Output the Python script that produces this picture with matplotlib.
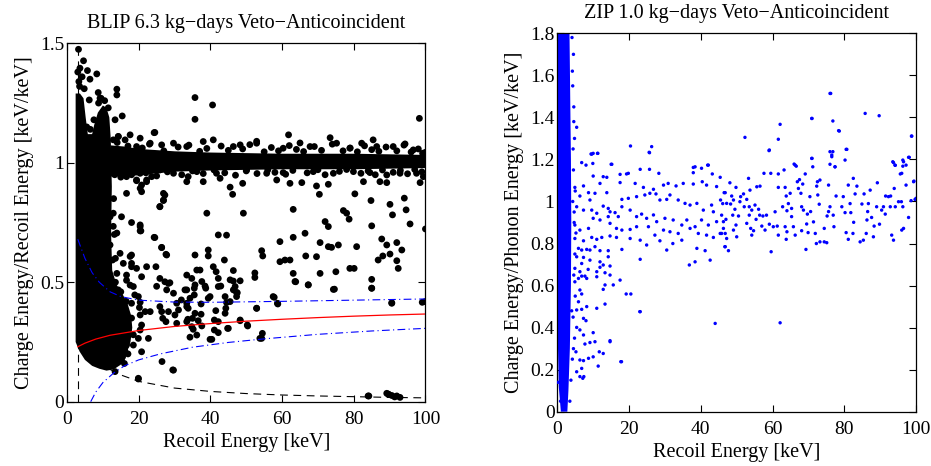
import matplotlib
matplotlib.use("Agg")
import matplotlib.pyplot as plt
from matplotlib.ticker import FuncFormatter, MultipleLocator

plt.rcParams['font.family'] = ['Liberation Serif', 'DejaVu Serif']

# ---------------- BLIP panel data ----------------
blip_title = "BLIP 6.3 kg\u2212days Veto\u2212Anticoincident"
blip_ylabel = "Charge Energy/Recoil Energy [keV/keV]"
xlabel = "Recoil Energy [keV]"

# dense (saturated) regions: outline of the low-energy cluster
blip_dense_x = [2.4, 3.5, 5.0, 7.0, 9.0, 11.0, 13.0, 15.0, 16.6, 17.7, 18.2, 17.9, 16.9, 15.5,
                13.8, 12.6, 12.3, 12.5, 12.2, 11.8, 11.0, 10.0, 8.6, 7.6, 7.0, 5.8, 5.2, 4.6, 3.6, 2.4]
blip_dense_y = [0.25, 0.21, 0.175, 0.15, 0.138, 0.13, 0.135, 0.155, 0.20, 0.25, 0.31, 0.36, 0.41, 0.45,
                0.49, 0.55, 0.70, 0.90, 1.10, 1.19, 1.23, 1.24, 1.21, 1.16, 1.12, 1.12, 1.19, 1.27, 1.29, 1.29]
# electron-recoil band (saturated) upper / lower edges
blip_band_x = [12, 16, 20, 25, 30, 40, 60, 80, 100]
blip_band_hi = [1.075, 1.07, 1.06, 1.055, 1.05, 1.045, 1.04, 1.04, 1.035]
blip_band_lo = [0.945, 0.945, 0.95, 0.958, 0.965, 0.97, 0.975, 0.975, 0.98]

blip_x = [3.2, 4.6, 3.6, 5.7, 8.3, 6.4, 3.3, 4.2, 13.9, 13.9, 8.7, 9.2, 6.2, 15.4, 13.4, 35.7, 35.7, 40.6,
          98.3, 24.3, 40.8, 61.8, 73.4, 52.9, 65.0, 85.4, 94.3, 14.3, 17.6,
          26.9, 26.9, 25.9, 46.2, 45.5, 39.0, 49.2, 63.1, 70.4, 77.1, 78.0, 78.7, 80.3, 84.8, 90.1, 90.8,
          94.1, 94.6, 85.0, 95.7, 100.0, 23.6, 20.4, 22.2, 10.6, 12.9, 10.9, 18.0, 20.4, 20.4, 24.3,
          42.2, 44.5, 26.4, 27.8, 18.0, 39.4, 39.4, 35.7, 43.9, 66.4, 72.0, 72.9, 59.4, 63.1, 70.6, 72.9,
          73.8, 75.7, 80.8, 66.6, 69.6, 59.4, 60.8, 62.2, 54.3, 54.6, 87.8, 89.2, 92.0, 88.1, 90.1, 86.8,
          92.0, 92.4, 93.4, 78.9, 80.1, 70.6, 75.0, 63.1, 63.6, 52.4, 52.4, 67.3, 85.0, 85.0, 74.3,
          99.9, 90.6, 57.5, 58.7, 52.9, 54.3, 50.3, 48.3, 45.0, 39.9, 29.5, 26.5, 19.9, 13.4,
          84.0, 89.2, 89.8, 92.0, 92.9,
          33.4, 35.7, 35.5, 34.3, 35.5, 33.8, 37.4, 39.4, 39.9, 35.7, 37.4, 35.0, 36.6, 33.7, 37.6, 34.8,
          35.2, 36.2, 34.3, 40.4, 41.5, 41.1, 42.2, 41.1, 42.2, 44.1, 44.3, 44.5, 44.1, 45.5, 47.3, 47.3,
          46.4, 46.4, 42.2, 38.7, 48.3, 44.8, 50.4, 52.9, 54.5, 53.8, 57.8, 58.8, 63.8, 67.3, 74.6, 85.0,
          90.6, 99.1, 84.2, 89.6, 90.6, 91.4,
          20.4, 20.6, 24.5, 26.4, 27.6, 17.6, 12.7, 18.0, 19.4, 20.8, 24.8, 25.9, 27.3, 28.3, 16.6, 17.6,
          18.9, 19.9, 20.4, 20.2, 18.0, 21.8, 23.2, 25.9, 26.4, 26.7, 27.6, 28.3, 30.1, 31.1, 33.4, 30.6,
          33.4, 20.4, 20.8, 20.4, 22.7, 19.9, 18.5, 20.8, 16.6, 16.2, 15.5, 15.2, 19.9, 29.7,
          11.1, 12.9, 13.9, 12.0, 14.8, 15.7, 18.0, 13.9, 16.6, 18.5, 14.3, 22.2, 25.0, 28.7, 27.8, 29.7,
          30.6, 31.9, 33.4, 32.9, 34.8, 33.4, 36.2, 37.1, 37.6, 38.5, 40.8, 41.6, 42.2, 42.9, 45.5, 46.4,
          46.9, 47.5, 48.3,
          20.4, 19.4, 33.4, 38.0, 42.7, 58.5, 62.2, 82.7, 87.3, 89.2, 98.5, 69.6, 72.9, 65.5, 49.0,
          12.9, 19.4, 26.4, 29.7, 33.4, 38.0, 46.4, 48.3, 52.9, 60.3, 67.8, 75.2, 78.9, 82.2, 86.4, 91.0,
          96.6, 99.2,
          25.9, 29.7, 36.2, 41.7, 50.1, 55.7, 60.3, 68.7, 74.3, 79.9, 84.5, 89.2, 92.9, 97.5, 99.4,
          14.3, 16.2, 20.4, 24.5, 23.2, 13.4, 14.8, 13.4, 15.2, 16.6, 19.4, 20.8, 22.2, 16.6, 20.8, 27.3,
          26.9, 25.9, 33.8, 11.1, 12.0, 15.2,
          # ragged edges of the dense cluster
          3.5, 4.8, 3.0, 9.5, 10.5, 8.8, 11.5, 17.0, 18.5, 18.0, 16.5, 15.0, 13.5, 13.5, 13.2, 13.0, 13.3,
          12.8, 14.0, 16.0, 6.5, 7.5, 5.5,
          # ragged edges of the electron-recoil band
          14, 17, 21, 23, 27, 31, 34, 37, 39, 43, 45, 49, 51, 55, 57, 59, 62, 64, 66, 69, 71, 74, 77, 79,
          81, 83, 85, 87, 89, 92, 94, 96, 98, 100,
          15, 18, 22, 25, 28, 32, 35, 38, 41, 44, 47, 50, 53, 56, 58, 61, 63, 67, 70, 72, 76, 78, 82, 84,
          86, 88, 91, 93, 95, 97, 99]
blip_y = [1.475, 1.427, 1.396, 1.386, 1.372, 1.35, 1.34, 1.36, 1.308, 1.284, 1.294, 1.27, 1.263, 1.196,
          1.18, 1.273, 1.182, 1.242, 1.186, 1.126, 1.096, 1.117, 1.105, 1.09, 1.083, 1.096, 1.079, 1.11,
          1.117,
          0.872, 0.842, 0.817, 0.868, 0.898, 0.789, 0.789, 0.805, 0.868, 0.80, 0.789, 0.764, 0.87, 0.842,
          0.826, 0.782, 0.852, 0.803, 0.736, 0.744, 0.723, 0.942, 0.893, 0.921, 0.803, 0.789, 0.75, 0.75,
          0.733, 0.715, 0.688, 0.698, 0.697, 0.646, 0.614, 0.614, 0.635, 0.61, 0.614, 0.593, 0.705, 0.754,
          0.733, 0.67, 0.688, 0.666, 0.649, 0.646, 0.656, 0.649, 0.61, 0.607, 0.586, 0.593, 0.593, 0.632,
          0.61, 0.681, 0.656, 0.666, 0.61, 0.618, 0.593, 0.59, 0.558, 0.635, 0.558, 0.558, 0.537, 0.544,
          0.537, 0.503, 0.539, 0.52, 0.489, 0.512, 0.475, 0.47, 0.419, 0.414, 0.44, 0.412, 0.391, 0.265,
          0.321, 0.342, 0.307, 0.261, 0.133, 0.168, 0.095, 0.126,
          0.024, 0.035, 0.03, 0.024, 0.018,
          0.468, 0.489, 0.475, 0.433, 0.447, 0.391, 0.409, 0.433, 0.44, 0.37, 0.366, 0.349, 0.339, 0.345,
          0.317, 0.314, 0.303, 0.279, 0.27, 0.261, 0.381, 0.342, 0.335, 0.30, 0.289, 0.37, 0.391, 0.415,
          0.44, 0.419, 0.44, 0.457, 0.468, 0.505, 0.482, 0.475, 0.339, 0.307, 0.317, 0.391, 0.286, 0.265,
          0.437, 0.409, 0.502, 0.489, 0.471, 0.475, 0.412, 0.416, 0.024, 0.032, 0.026, 0.02,
          0.74, 0.715, 0.687, 0.645, 0.617, 0.608, 0.593, 0.579, 0.558, 0.523, 0.565, 0.516, 0.502, 0.495,
          0.53, 0.488, 0.447, 0.44, 0.416, 0.394, 0.412, 0.377, 0.377, 0.398, 0.377, 0.349, 0.335, 0.377,
          0.363, 0.384, 0.412, 0.328, 0.335, 0.363, 0.321, 0.30, 0.265, 0.265, 0.237, 0.209, 0.237, 0.209,
          0.188, 0.174, 0.098, 0.132,
          0.81, 0.734, 0.706, 0.656, 0.621, 0.579, 0.565, 0.537, 0.508, 0.482, 0.468, 0.565, 0.483, 0.498,
          0.468, 0.454, 0.412, 0.426, 0.398, 0.468, 0.516, 0.53, 0.551, 0.551, 0.503, 0.484, 0.565, 0.544,
          0.516, 0.484, 0.51, 0.549, 0.482, 0.456, 0.506,
          0.956, 0.925, 0.921, 0.921, 0.935, 0.928, 0.914, 0.921, 0.921, 0.917, 0.917, 0.903, 0.91, 0.917,
          0.914,
          1.096, 1.068, 1.075, 1.082, 1.068, 1.089, 1.068, 1.075, 1.082, 1.061, 1.068, 1.082, 1.061, 1.082,
          1.068, 1.068, 1.054, 1.04,
          0.97, 0.956, 0.963, 0.956, 0.97, 0.956, 0.959, 0.963, 0.956, 0.963, 0.959, 0.949, 0.956, 0.956,
          0.942,
          1.11, 1.096, 1.103, 1.127, 1.082, 1.054, 1.026, 0.991, 0.97, 0.942, 0.928, 0.907, 0.928, 0.872,
          0.879, 0.865, 0.844, 0.816, 0.942, 0.802, 0.774, 0.774,
          1.32, 1.31, 1.38, 1.27, 1.26, 1.25, 1.23, 0.2, 0.28, 0.35, 0.42, 0.46, 0.5, 0.6, 0.7, 0.85, 0.95,
          1.05, 0.18, 0.16, 1.14, 1.18, 1.15,
          1.085, 1.07, 1.062, 1.078, 1.05, 1.066, 1.074, 1.048, 1.06, 1.07, 1.052, 1.058, 1.076, 1.046,
          1.064, 1.05, 1.072, 1.056, 1.047, 1.068, 1.052, 1.078, 1.05, 1.062, 1.046, 1.071, 1.055, 1.048,
          1.066, 1.05, 1.074, 1.045, 1.058, 1.044,
          0.94, 0.95, 0.958, 0.945, 0.962, 0.95, 0.966, 0.955, 0.97, 0.958, 0.948, 0.966, 0.955, 0.97,
          0.96, 0.952, 0.968, 0.958, 0.971, 0.95, 0.964, 0.972, 0.956, 0.966, 0.95, 0.97, 0.96, 0.968,
          0.954, 0.972, 0.962]

# analysis curves
thresh_x = [3.0, 3.0]
thresh_y = [0.0, 1.5]
hyp_x = [12, 15, 20, 30, 40, 50, 60, 70, 80, 90, 100]
hyp_y = [0.135, 0.112, 0.085, 0.057, 0.043, 0.034, 0.028, 0.024, 0.021, 0.018, 0.016]
red_x = [3, 5, 8, 12, 20, 30, 40, 50, 60, 70, 80, 90, 100]
red_y = [0.23, 0.245, 0.262, 0.278, 0.298, 0.315, 0.327, 0.337, 0.345, 0.352, 0.358, 0.363, 0.367]
nr_hi_x = [3, 5, 7, 9, 12, 15, 20, 30, 40, 60, 80, 100]
nr_hi_y = [0.68, 0.60, 0.54, 0.50, 0.46, 0.44, 0.425, 0.417, 0.416, 0.42, 0.425, 0.43]
nr_lo_x = [6.6, 8, 10, 13, 16, 20, 26, 35, 45, 55, 70, 85, 100]
nr_lo_y = [0.0, 0.04, 0.08, 0.12, 0.15, 0.175, 0.20, 0.228, 0.248, 0.263, 0.282, 0.296, 0.307]

# ---------------- ZIP panel data ----------------
zip_title = "ZIP 1.0 kg\u2212days Veto\u2212Anticoincident"
zip_ylabel = "Charge Energy/Phonon Energy [keV/keV]"
zip_dense_x = [1.0, 0.4, 0.2, 0.2, 0.2, 3.4, 3.6, 3.8, 3.9, 3.8, 3.5, 3.1, 2.8]
zip_dense_y = [0.0, 0.12, 0.3, 1.0, 1.8, 1.8, 1.5, 1.2, 0.9, 0.6, 0.3, 0.1, 0.0]

zip_x = [76.0, 85.8, 89.7, 78.4, 76.8, 62.1, 71.0, 61.6, 52.3, 98.8, 59.0, 80.7, 76.0, 76.5, 80.2, 71.0,
         97.9, 5.4, 20.4, 26.3, 25.7, 41.9, 38.4, 9.4, 10.0, 11.2, 15.2, 66.3, 76.0, 77.4, 93.7, 94.1,
         96.0, 96.3, 97.2, 99.3, 100.0,
         45.4, 46.5, 46.1, 45.8, 47.0, 46.3, 45.4, 46.8, 47.2, 46.7, 47.7, 48.1, 48.6, 48.3, 49.8, 49.1,
         49.5, 48.9, 49.8, 49.1, 50.0, 50.5, 51.1, 51.9, 50.9, 52.1, 52.8, 52.8, 53.3, 53.7, 54.2, 53.5,
         53.9, 54.7, 54.2, 53.5,
         55.6, 56.5, 55.1, 56.1, 56.4, 55.4, 57.3, 57.0, 57.6, 57.9, 59.1, 59.5, 58.3, 59.1, 59.6, 60.2,
         60.7, 61.3, 61.6, 61.6, 61.6, 62.8, 63.2, 63.5, 63.8, 64.0, 63.5, 64.0, 63.8,
         64.4, 64.9, 65.3, 65.3, 65.8, 66.0, 66.6, 66.3, 66.9, 67.2, 67.5, 67.9, 68.1, 68.1, 68.4, 68.6,
         69.1, 69.3, 69.5, 69.7, 69.9, 70.4, 70.9, 70.9, 70.6, 71.2, 71.4, 71.9, 72.2, 72.3, 72.5, 72.6,
         73.2, 73.2, 73.0,
         74.4, 74.4, 75.1, 75.2, 75.6, 75.6, 76.0, 76.2, 76.5, 76.8, 76.9, 77.4, 77.7, 77.1, 78.6, 79.3,
         79.7, 80.2, 80.5, 80.5, 81.1, 81.1, 81.6, 81.8, 82.4, 82.5, 82.6,
         83.0, 83.5, 84.4, 84.9, 85.3, 85.5, 86.1, 86.3, 86.5, 86.7, 87.2, 87.6, 88.1, 88.3, 89.0, 89.2,
         89.8, 90.4, 90.9, 91.4, 91.5,
         92.3, 92.8, 92.9, 93.2, 93.5, 93.7, 93.9, 94.2, 94.2, 95.1, 95.6, 95.9, 96.0, 96.3, 96.5, 96.5,
         96.3, 97.2, 97.9, 98.1, 98.6, 98.7, 99.4, 99.7,
         9.6, 11.3, 25.6, 6.8, 8.0, 9.9, 15.0, 23.1, 25.7, 28.3, 37.9, 40.2, 42.1, 37.9, 43.2, 10.0, 12.8,
         13.8, 17.5, 19.3, 19.8,
         7.3, 4.9, 11.9, 17.5, 21.7, 24.0, 26.8, 29.6, 30.9, 33.1, 35.1, 37.9, 40.4, 41.6, 44.4, 46.8,
         6.3, 8.7, 10.5, 9.1, 13.8, 18.0, 19.8, 22.1, 24.4, 25.8, 27.5, 28.6, 30.5, 31.4, 33.7, 35.6, 37.0,
         38.9, 40.7, 43.0, 43.5, 45.5, 47.2,
         5.4, 7.3, 9.6, 11.0, 12.8, 14.2, 14.7, 16.1, 17.0, 18.0, 20.3, 22.1, 23.5, 24.9, 26.8, 27.7, 30.0,
         32.3, 34.7, 36.1, 38.4, 40.2, 42.1, 44.4, 46.3,
         10.0, 11.9, 14.2, 4.9, 14.7, 16.5, 18.0, 20.3, 22.1, 25.4, 27.2, 29.6, 31.4, 33.7, 37.0, 39.3,
         41.6, 43.5, 45.8,
         6.3, 8.7, 9.6, 7.3, 4.9, 11.0, 12.4, 14.7, 16.5, 20.3, 23.1, 24.9, 28.6, 32.2, 34.7, 38.9, 41.2,
         42.6, 46.8,
         5.9, 6.8, 8.2, 9.1, 10.5, 11.9, 14.2, 18.0, 23.1, 30.5, 38.4, 36.8,
         5.4, 7.3, 9.1, 11.9, 14.2, 6.8, 12.8, 11.9, 14.7, 4.9, 6.3, 8.6, 11.0, 13.3,
         6.8, 7.7, 5.9, 8.2, 11.0, 14.7, 17.5, 15.6, 13.3, 12.8, 4.9,
         6.3, 6.8, 5.9, 5.4, 6.8, 8.2, 11.0, 13.3, 20.5, 23.1, 7.3, 8.0, 5.4, 6.3, 7.3, 10.0, 9.1, 10.5,
         7.7, 14.7, 12.8, 11.7, 5.2, 10.0, 8.7, 7.3, 6.3, 17.7, 11.4, 5.4, 6.3, 7.1, 44.0,
         7.4, 6.8, 19.2, 23.0, 62.1, 17.9, 14.7,
         # ragged edge of the dense low-energy band
         4.5, 4.3, 4.6, 4.8, 4.5, 5.0, 4.7, 5.2, 4.9, 4.6, 5.0, 4.4, 4.8, 4.2, 3.8, 3.5, 0.2, 0.9, 4.2, 4.4,
         4.1, 4.6, 4.3, 4.7, 4.0, 4.5]
zip_y = [1.514, 1.419, 1.408, 1.337, 1.383, 1.367, 1.395, 1.296, 1.305, 1.311, 1.242, 1.248, 1.237, 1.213,
         1.197, 1.205, 1.21, 1.353, 1.264, 1.261, 1.232, 1.173, 1.165, 1.226, 1.229, 1.229, 1.177, 1.173,
         1.177, 1.165, 1.185, 1.173, 1.134, 1.197, 1.173, 1.094, 1.015,
         1.115, 1.042, 0.99, 0.935, 0.915, 0.872, 0.848, 0.848, 0.824, 0.785, 0.766, 1.089, 1.026, 0.988,
         1.067, 1.007, 0.963, 0.935, 0.888, 0.864, 0.832, 0.931, 1.023, 1.036, 0.999, 0.975, 1.01, 0.896,
         1.11, 1.054, 0.959, 0.935, 0.872, 0.861, 0.84, 0.975,
         1.07, 1.073, 0.983, 0.963, 0.935, 0.915, 0.931, 0.883, 1.134, 0.864, 1.245, 1.134, 0.935, 0.892,
         0.761, 0.88, 0.951, 0.883, 1.067, 1.131, 0.84, 0.975, 1.15, 1.067, 1.026, 0.956, 0.88, 0.856,
         0.82,
         0.99, 1.039, 0.967, 0.928, 0.88, 1.178, 1.168, 0.84, 1.094, 1.062, 1.104, 1.039, 0.975, 0.861,
         1.083, 0.959, 1.131, 0.772, 0.893, 0.94, 0.852, 1.023, 1.395, 1.205, 0.952, 1.165, 0.903, 0.848,
         0.80, 1.073, 1.094, 1.031, 1.102, 0.808, 0.987,
         0.872, 0.808, 0.804, 0.931, 1.078, 0.952, 0.975, 1.514, 1.221, 1.237, 0.935, 1.165, 1.026, 0.88,
         1.335, 0.975, 1.023, 0.947, 1.248, 0.852, 1.078, 0.82, 0.99, 0.947, 0.848, 1.11, 0.901,
         1.036, 1.073, 0.808, 0.988, 0.816, 1.036, 0.848, 0.912, 0.952, 0.99, 1.054, 0.924, 0.832, 0.883,
         0.975, 1.089, 0.892, 0.959, 0.975, 0.94, 1.026,
         1.023, 0.975, 1.026, 0.84, 1.189, 0.816, 1.062, 1.172, 0.975, 0.999, 1.131, 0.999, 0.864, 1.168,
         1.189, 0.872, 0.975, 1.078, 0.924, 1.21, 1.004, 1.311, 1.097, 1.01,
         1.225, 1.229, 1.234, 1.185, 1.173, 1.181, 1.177, 1.153, 1.153, 1.134, 1.162, 1.158, 1.173, 1.137,
         1.131, 1.121, 1.118, 1.115, 1.129, 1.131, 1.134,
         1.074, 1.067, 1.086, 1.09, 1.086, 1.067, 1.058, 1.078, 1.086, 1.074, 1.086, 1.083, 1.094, 1.078,
         1.071, 1.042,
         1.026, 1.042, 1.039, 1.007, 1.042, 1.01, 1.015, 1.023, 1.031, 1.039, 1.036, 1.007, 1.01, 1.031,
         1.007, 0.991, 0.983, 0.991, 0.959, 0.983, 0.951, 1.007, 0.991,
         0.975, 0.959, 0.959, 0.944, 0.978, 0.967, 0.951, 0.947, 0.928, 0.975, 0.959, 0.928, 0.94, 0.92,
         0.936, 0.904, 0.92, 0.912, 0.888, 0.912, 0.88, 0.912, 0.888, 0.904, 0.904,
         0.92, 0.912, 0.928, 0.888, 0.896, 0.872, 0.864, 0.867, 0.88, 0.88, 0.84, 0.864, 0.856, 0.848,
         0.872, 0.848, 0.84, 0.829, 0.848,
         0.864, 0.872, 0.829, 0.813, 0.824, 0.82, 0.829, 0.836, 0.829, 0.824, 0.816, 0.793, 0.813, 0.80,
         0.816, 0.777, 0.766, 0.721, 0.785,
         0.777, 0.769, 0.772, 0.769, 0.785, 0.766, 0.766, 0.772, 0.725, 0.769, 0.713, 0.698,
         0.737, 0.734, 0.721, 0.713, 0.737, 0.705, 0.698, 0.687, 0.693, 0.682, 0.666, 0.677, 0.666, 0.661,
         0.645, 0.645, 0.634, 0.634, 0.642, 0.65, 0.626, 0.603, 0.603, 0.582, 0.618,
         0.579, 0.56, 0.523, 0.484, 0.487, 0.50, 0.492, 0.512, 0.56, 0.476, 0.444, 0.433, 0.401, 0.389,
         0.365, 0.376, 0.329, 0.333, 0.322, 0.333, 0.277, 0.285, 0.285, 0.261, 0.254, 0.243, 0.246, 0.238,
         0.217, 0.19, 0.167, 0.159, 0.42,
         0.167, 0.206, 0.56, 0.476, 0.423, 0.238, 0.338,
         1.7, 1.55, 1.45, 1.3, 1.15, 1.05, 0.95, 0.85, 0.75, 0.65, 0.55, 0.45, 0.35, 0.25, 0.15, 0.05,
         0.14, 0.05, 1.62, 1.25, 1.78, 1.38, 1.0, 0.9, 0.48, 0.3]

# ---------------- figure ----------------
fig = plt.figure(figsize=(9.31, 4.66), dpi=100)
ax1 = fig.add_axes([0.072, 0.138, 0.385, 0.769])
ax2 = fig.add_axes([0.5986, 0.1165, 0.3854, 0.812])

# BLIP
ax1.fill(blip_dense_x, blip_dense_y, color='black', lw=0, zorder=2)
ax1.fill_between(blip_band_x, blip_band_lo, blip_band_hi, color='black', lw=0, zorder=2)
ax1.scatter(blip_x, blip_y, s=24, c='black', edgecolors='none', zorder=3)
ax1.plot(thresh_x, thresh_y, color='black', ls=(0, (7, 5)), lw=0.8, zorder=4)
ax1.plot(hyp_x, hyp_y, color='black', ls=(0, (7, 5)), lw=0.8, zorder=4)
ax1.plot(red_x, red_y, color='red', lw=0.9, zorder=4)
ax1.plot(nr_hi_x, nr_hi_y, color='blue', ls=(0, (7, 3, 1, 3)), lw=0.8, zorder=4)
ax1.plot(nr_lo_x, nr_lo_y, color='blue', ls=(0, (7, 3, 1, 3)), lw=0.8, zorder=4)
ax1.set_xlim(0, 100)
ax1.set_ylim(0, 1.5)
ax1.xaxis.set_major_locator(MultipleLocator(20))
ax1.yaxis.set_major_locator(MultipleLocator(0.5))
ax1.set_title(blip_title, fontsize=14.5, pad=11)
ax1.set_xlabel(xlabel, fontsize=14.5, labelpad=3.5)
ax1.set_ylabel(blip_ylabel, fontsize=14.5, labelpad=4)

# ZIP
ax2.fill(zip_dense_x, zip_dense_y, color='blue', lw=0, zorder=2)
ax2.scatter(zip_x, zip_y, s=6, c='blue', marker='o', edgecolors='none', zorder=3)
ax2.set_xlim(0, 100)
ax2.set_ylim(0, 1.8)
ax2.xaxis.set_major_locator(MultipleLocator(20))
ax2.yaxis.set_major_locator(MultipleLocator(0.2))
ax2.set_title(zip_title, fontsize=14.5, pad=11)
ax2.set_xlabel(xlabel, fontsize=14.5, labelpad=3.5)
ax2.set_ylabel(zip_ylabel, fontsize=14.5, labelpad=4)

fmt = FuncFormatter(lambda v, p: "%g" % round(v, 6))
for ax in (ax1, ax2):
    ax.xaxis.set_major_formatter(fmt)
    ax.yaxis.set_major_formatter(fmt)
    ax.tick_params(direction='in', top=True, right=True, length=5, width=0.8, labelsize=14)
    ax.tick_params(axis='x', pad=6.5)
    ax.tick_params(axis='y', pad=2)
    for sp in ax.spines.values():
        sp.set_linewidth(0.9)

fig.savefig("out.png", dpi=100)
